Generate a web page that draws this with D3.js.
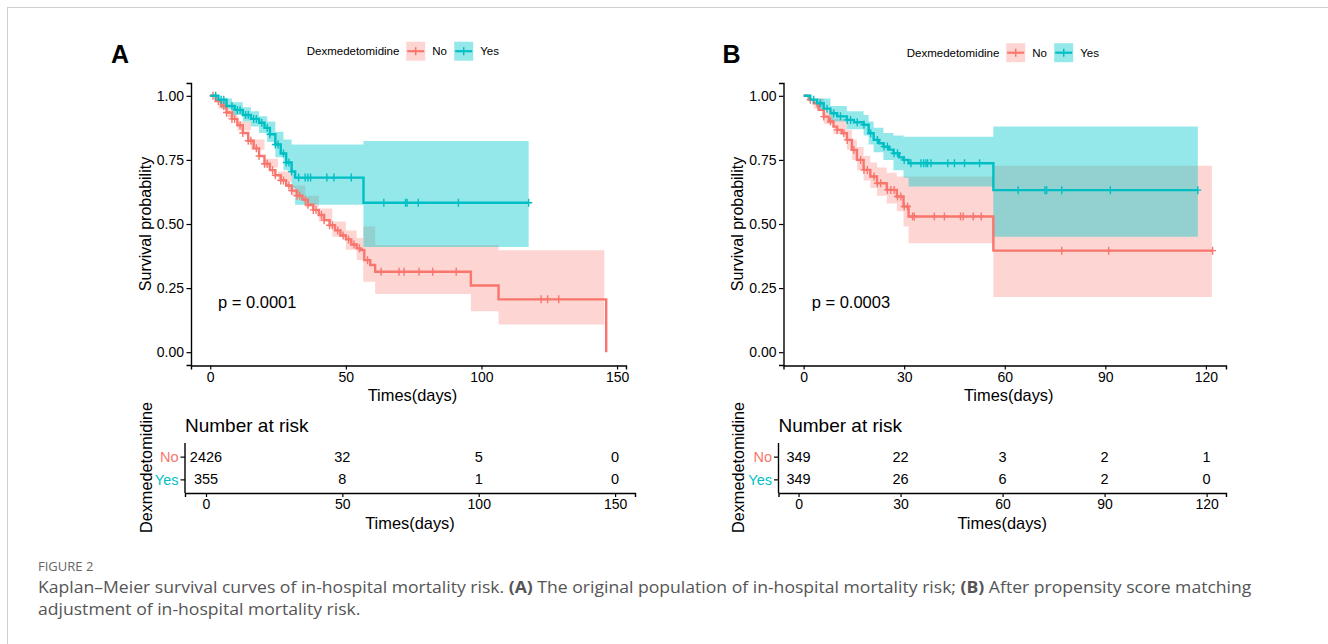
<!DOCTYPE html>
<html>
<head>
<meta charset="utf-8">
<script src="https://cdn.jsdelivr.net/npm/d3@7"></script>
<style>
  body { margin: 0; background: #fff; }
  svg { display: block; }
  text { font-family: "Liberation Sans", Arial, sans-serif; }
</style>
</head>
<body>
<script>
"use strict";

// groups + colours
const groups = ["No", "Yes"];
const colors = { No: "#F8766D", Yes: "#00BFC4" };

// tick labels
const survTicks = [0, 0.25, 0.5, 0.75, 1];
const timeTicksA = [0, 50, 100, 150];
const timeTicksB = [0, 30, 60, 90, 120];

// panel A: KM steps [time, survival]
const curveA_No = [[0,1],[2,0.98],[4,0.96],[6,0.935],[8,0.91],[10,0.885],[12,0.855],[14,0.825],[16,0.795],[18,0.765],[20,0.735],[22,0.71],[24,0.69],[26,0.67],[28,0.65],[30,0.63],[32,0.61],[34,0.595],[36,0.575],[38,0.555],[40,0.535],[42,0.515],[44,0.495],[46,0.475],[48,0.455],[50,0.44],[52,0.42],[54,0.405],[55.5,0.398],[56.8,0.359],[59,0.34],[60.8,0.314],[96.1,0.26],[106.3,0.206],[146,0]];
const curveA_Yes = [[0,1],[3,0.985],[6,0.96],[9,0.945],[12,0.925],[15,0.91],[18,0.895],[20,0.875],[22,0.85],[24,0.81],[26,0.775],[28,0.74],[30,0.705],[31.3,0.681],[56.5,0.583],[117.4,0.583]];
// confidence bands [time, lower, upper]
const ciA_No = [[0,1,1],[3,0.95,0.975],[6,0.915,0.95],[10,0.865,0.9],[15,0.79,0.83],[20,0.72,0.755],[25,0.665,0.705],[30,0.61,0.65],[35,0.565,0.61],[40,0.51,0.56],[45,0.45,0.51],[50,0.40,0.475],[54,0.36,0.445],[56.4,0.275,0.49],[60.8,0.227,0.418],[96.1,0.16,0.418],[106.3,0.108,0.398],[145.3,0.108,0.398]];
const ciA_Yes = [[0,1,1],[4,0.95,0.99],[8,0.925,0.975],[12,0.9,0.955],[15,0.88,0.94],[18,0.855,0.92],[21,0.82,0.9],[24,0.76,0.86],[27,0.71,0.83],[30,0.64,0.81],[31.3,0.575,0.81],[56.5,0.41,0.824],[117.4,0.41,0.824]];
// censoring times
const censorA_No = [1,3,5,6,8,9,11,12,14,15,17,18,20,21,23,24,26,27,29,30,32,33,35,36,38,39,41,42,44,45,47,49,51,53,55,58,63,69.6,71.5,77,82,90.7,122,124.4,128.5];
const censorA_Yes = [2,4,5,8,10,11,13,14,16,17,19,21,22,24,25,27,28,29,30,32.6,35,36,37,43,45.6,52,64,72,72.6,76.7,91.5,117.4];

// panel B
const curveB_No = [[0,1],[1.5,0.985],[3,0.971],[4.5,0.945],[6,0.919],[7.5,0.9],[8.9,0.88],[10,0.867],[11.4,0.854],[12.9,0.828],[14.4,0.789],[15.9,0.75],[17.9,0.711],[19.9,0.685],[21.9,0.659],[24.8,0.633],[27.8,0.607],[29.8,0.568],[31.3,0.529],[56.6,0.396],[122,0.396]];
const curveB_Yes = [[0,1],[2,0.985],[4,0.971],[6,0.95],[8,0.932],[10,0.92],[12.9,0.906],[15,0.897],[17.9,0.887],[19.4,0.854],[20.9,0.828],[22.5,0.815],[23.8,0.802],[25.5,0.79],[26.8,0.776],[28.5,0.76],[29.8,0.75],[31.3,0.737],[56.6,0.632],[117.6,0.632]];
const ciB_No = [[0,1,1],[3,0.95,0.99],[6,0.89,0.945],[8.9,0.85,0.91],[12.9,0.79,0.867],[14.4,0.75,0.83],[15.9,0.71,0.80],[17.9,0.67,0.765],[19.9,0.64,0.74],[21.9,0.61,0.72],[24.8,0.58,0.70],[27.8,0.55,0.685],[29.8,0.49,0.685],[31.3,0.425,0.685],[56.6,0.215,0.727],[121.8,0.215,0.727]];
const ciB_Yes = [[0,1,1],[4,0.95,0.99],[8,0.90,0.96],[12.9,0.87,0.94],[17.9,0.845,0.925],[19.4,0.81,0.9],[20.9,0.78,0.875],[23.8,0.75,0.855],[26.8,0.71,0.845],[29.8,0.68,0.84],[31.3,0.646,0.84],[56.6,0.45,0.88],[117.6,0.45,0.88]];
const censorB_No = [2,4,6,8,10,12,13,15,17,18,19,21,22,23,25,26,27,28,29,30,31,32.5,33,39,42,46.8,47.6,50.6,53,77,91,122];
const censorB_Yes = [3,5,7,9,11,13,14,16,18,20,22,24,25,27,28,30,32,35,35.8,36.5,37,38,43,45,48,52.5,64,72,72.5,77,91.5,117.6];

// number at risk
const riskA_No = [2426, 32, 5, 0];
const riskA_Yes = [355, 8, 1, 0];
const riskB_No = [349, 22, 3, 2, 1];
const riskB_Yes = [349, 26, 6, 2, 0];

const pValues = ["p = 0.0001", "p = 0.0003"];
const panelLabels = ["A", "B"];

const svg = d3.select("body").append("svg").attr("width", 1328).attr("height", 644);

// frame lines of the figure box
svg.append("line").attr("x1", 7).attr("x2", 1328).attr("y1", 7.5).attr("y2", 7.5).attr("stroke", "#cfcfcf");
svg.append("line").attr("x1", 7.5).attr("x2", 7.5).attr("y1", 7).attr("y2", 644).attr("stroke", "#cfcfcf");

function survAt(curve, t) {
  const i = d3.bisector((d) => d[0]).right(curve, t) - 1;
  return curve[Math.max(0, i)][1];
}

function styleAxis(a) {
  a.select(".domain").attr("stroke", "#000").attr("stroke-width", 1.4);
  a.selectAll(".tick line").attr("stroke", "#000").attr("stroke-width", 1.2);
  a.selectAll(".tick text").style("font-size", "14px")
    .style("font-family", "Liberation Sans, Arial, sans-serif").style("fill", "#000");
}

function drawPanel(cfg) {
  const g = svg.append("g");
  const x = d3.scaleLinear().domain(cfg.xDomain).range(cfg.xRange);
  const y = d3.scaleLinear().domain([-0.05, 1.05]).range([365, 83]);

  // panel letter
  g.append("text").attr("x", cfg.letterX).attr("y", 63)
    .style("font-size", "25px").style("font-weight", "bold").text(cfg.letter);

  // legend
  const leg = g.append("g").attr("transform", `translate(${cfg.legX},${cfg.legY})`);
  leg.append("text").attr("x", 0).attr("y", 0).attr("dy", "0.35em")
    .style("font-size", "11.5px").text("Dexmedetomidine");
  groups.forEach((grp, i) => {
    const bx = 99.5 + i * 48;
    leg.append("rect").attr("x", bx).attr("y", -9.5).attr("width", 19).attr("height", 19)
      .attr("fill", grp === "No" ? colors.No : "rgb(0,200,205)").attr("fill-opacity", grp === "No" ? 0.3 : 0.42);
    leg.append("line").attr("x1", bx + 1).attr("x2", bx + 18).attr("y1", 0).attr("y2", 0)
      .attr("stroke", colors[grp]).attr("stroke-width", 2.2);
    leg.append("line").attr("x1", bx + 9.5).attr("x2", bx + 9.5).attr("y1", -4).attr("y2", 4)
      .attr("stroke", colors[grp]).attr("stroke-width", 1.5);
    leg.append("text").attr("x", bx + 26).attr("y", 0).attr("dy", "0.35em")
      .style("font-size", "11.5px").text(grp);
  });

  // ribbons
  const area = d3.area().x((d) => x(d[0])).y0((d) => y(d[1])).y1((d) => y(d[2])).curve(d3.curveStepAfter);
  g.append("path").attr("d", area(cfg.ci.No)).attr("fill", colors.No).attr("fill-opacity", 0.3);
  g.append("path").attr("d", area(cfg.ci.Yes)).attr("fill", "rgb(0,200,205)").attr("fill-opacity", 0.42);

  // curves + censor marks
  const line = d3.line().x((d) => x(d[0])).y((d) => y(d[1])).curve(d3.curveStepAfter);
  groups.forEach((grp) => {
    g.append("path").attr("d", line(cfg.curves[grp])).attr("fill", "none")
      .attr("stroke", colors[grp]).attr("stroke-width", 2.4);
    g.selectAll(null).data(cfg.censor[grp]).join("path")
      .attr("d", (t) => {
        const cx = x(t), cy = y(survAt(cfg.curves[grp], t));
        return `M${cx - 3.5},${cy}H${cx + 3.5}M${cx},${cy - 4}V${cy + 4}`;
      })
      .attr("stroke", colors[grp]).attr("stroke-width", 1.4).attr("fill", "none");
  });

  // axes
  const yAxis = g.append("g").attr("transform", `translate(${cfg.xRange[0]},0)`)
    .call(d3.axisLeft(y).tickValues(survTicks).tickFormat(d3.format(".2f")).tickSizeOuter(0).tickSize(4.5).tickPadding(2.5));
  const xAxis = g.append("g").attr("transform", `translate(0,365.5)`)
    .call(d3.axisBottom(x).tickValues(cfg.ticks).tickFormat(d3.format("d")).tickSizeOuter(0).tickSize(4).tickPadding(2.5));
  styleAxis(yAxis);
  styleAxis(xAxis);

  g.append("text").attr("transform", `translate(${cfg.yTitleX},224) rotate(-90)`)
    .attr("text-anchor", "middle").attr("dy", "0.35em").style("font-size", "16px").text("Survival probability");
  g.append("text").attr("x", (cfg.xRange[0] + cfg.xRange[1]) / 2 + 4).attr("y", 400.5)
    .attr("text-anchor", "middle").style("font-size", "16.4px").text("Times(days)");
  g.append("text").attr("x", cfg.pX).attr("y", 302).attr("dy", "0.35em")
    .style("font-size", "16.5px").text(cfg.p);

  // risk table
  const xt = d3.scaleLinear().domain(cfg.tDomain).range(cfg.tRange);
  const yt = d3.scalePoint().domain(groups).range([443, 493]).padding(0.6);
  g.append("text").attr("x", cfg.tRange[0]).attr("y", 431.5).style("font-size", "19px").text("Number at risk");
  groups.forEach((grp) => {
    g.selectAll(null).data(cfg.risk[grp]).join("text")
      .attr("x", (d, i) => xt(cfg.ticks[i])).attr("y", yt(grp)).attr("dy", "0.35em")
      .attr("text-anchor", "middle").style("font-size", "14.5px").text((d) => d);
  });
  const tyAxis = g.append("g").attr("transform", `translate(${cfg.tRange[0]},0)`)
    .call(d3.axisLeft(yt).tickSizeOuter(0).tickSize(4.5).tickPadding(2));
  const txAxis = g.append("g").attr("transform", `translate(0,493)`)
    .call(d3.axisBottom(xt).tickValues(cfg.ticks).tickFormat(d3.format("d")).tickSizeOuter(0).tickSize(4).tickPadding(2.5));
  styleAxis(tyAxis);
  styleAxis(txAxis);
  tyAxis.selectAll(".tick text").style("fill", (d) => colors[d]).style("font-size", "14.5px");
  tyAxis.select(".domain").attr("d", `M0,443V493`);
  g.append("text").attr("transform", `translate(${cfg.yTitleX + 1.5},467.5) rotate(-90)`)
    .attr("text-anchor", "middle").attr("dy", "0.35em").style("font-size", "16.3px").text("Dexmedetomidine");
  g.append("text").attr("x", (cfg.tRange[0] + cfg.tRange[1]) / 2).attr("y", 528.5)
    .attr("text-anchor", "middle").style("font-size", "16.4px").text("Times(days)");
}

drawPanel({
  letter: panelLabels[0], letterX: 111, legX: 306.7, legY: 51.2,
  xDomain: [-7.1, 153.3], xRange: [191, 626], ticks: timeTicksA,
  curves: { No: curveA_No, Yes: curveA_Yes }, ci: { No: ciA_No, Yes: ciA_Yes },
  censor: { No: censorA_No, Yes: censorA_Yes },
  yTitleX: 145, pX: 218, p: pValues[0],
  tDomain: [-7.7, 157.3], tRange: [185, 635], risk: { No: riskA_No, Yes: riskA_Yes },
});

drawPanel({
  letter: panelLabels[1], letterX: 722.5, legX: 906.7, legY: 52.7,
  xDomain: [-6, 126], xRange: [783.5, 1226], ticks: timeTicksB,
  curves: { No: curveB_No, Yes: curveB_Yes }, ci: { No: ciB_No, Yes: ciB_Yes },
  censor: { No: censorB_No, Yes: censorB_Yes },
  yTitleX: 737, pX: 811.7, p: pValues[1],
  tDomain: [-5.9, 125.7], tRange: [778.5, 1226], risk: { No: riskB_No, Yes: riskB_Yes },
});

// caption
const cap = svg.append("g");
cap.append("text").attr("x", 38).attr("y", 570.5).style("font-family", "Open Sans, sans-serif")
  .style("font-size", "13px").style("fill", "#666").text("FIGURE 2");
const line1 = cap.append("text").attr("y", 593).style("font-family", "Open Sans, sans-serif")
  .style("font-size", "16px").style("fill", "#555");
line1.append("tspan").text("Kaplan\u2013Meier survival curves of in-hospital mortality risk. ");
line1.append("tspan").style("font-weight", "bold").text("(A)");
line1.append("tspan").text(" The original population of in-hospital mortality risk; ");
line1.append("tspan").style("font-weight", "bold").text("(B)");
line1.append("tspan").text(" After propensity score matching");
const line2 = cap.append("text").attr("y", 615).style("font-family", "Open Sans, sans-serif")
  .style("font-size", "16px").style("fill", "#555").text("adjustment of in-hospital mortality risk.");
const k = 1215 / line1.node().getComputedTextLength();
line1.attr("transform", `translate(38,0) scale(${k},1)`);
line2.attr("transform", `translate(38,0) scale(${k},1)`);
</script>
</body>
</html>
